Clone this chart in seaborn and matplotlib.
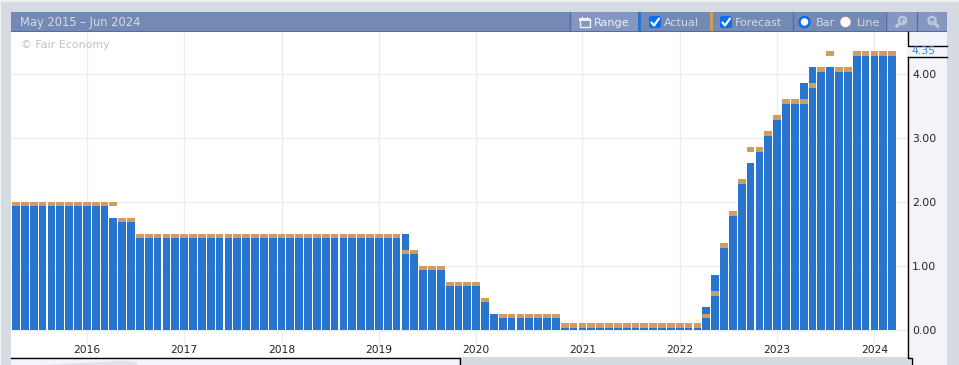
import matplotlib
matplotlib.use("Agg")
import matplotlib.pyplot as plt
import matplotlib.patches as mpatches
import numpy as np
import pandas as pd
import seaborn as sns

# one value per release
actual = [
    2.00, 2.00, 2.00, 2.00, 2.00, 2.00, 2.00, 2.00, 2.00, 2.00,
    2.00, 1.75, 1.75, 1.75, 1.50, 1.50, 1.50, 1.50, 1.50, 1.50,
    1.50, 1.50, 1.50, 1.50, 1.50, 1.50, 1.50, 1.50, 1.50, 1.50,
    1.50, 1.50, 1.50, 1.50, 1.50, 1.50, 1.50, 1.50, 1.50, 1.50,
    1.50, 1.50, 1.50, 1.50, 1.50, 1.25, 1.00, 1.00, 1.00, 0.75,
    0.75, 0.75, 0.75, 0.50, 0.25, 0.25, 0.25, 0.25, 0.25, 0.25,
    0.25, 0.25, 0.10, 0.10, 0.10, 0.10, 0.10, 0.10, 0.10, 0.10,
    0.10, 0.10, 0.10, 0.10, 0.10, 0.10, 0.10, 0.10, 0.35, 0.85,
    1.35, 1.85, 2.35, 2.60, 2.85, 3.10, 3.35, 3.60, 3.60, 3.85,
    4.10, 4.10, 4.10, 4.10, 4.10, 4.35, 4.35, 4.35, 4.35, 4.35,
]
forecast = [
    2.00, 2.00, 2.00, 2.00, 2.00, 2.00, 2.00, 2.00, 2.00, 2.00,
    2.00, 2.00, 1.75, 1.75, 1.50, 1.50, 1.50, 1.50, 1.50, 1.50,
    1.50, 1.50, 1.50, 1.50, 1.50, 1.50, 1.50, 1.50, 1.50, 1.50,
    1.50, 1.50, 1.50, 1.50, 1.50, 1.50, 1.50, 1.50, 1.50, 1.50,
    1.50, 1.50, 1.50, 1.50, 1.25, 1.25, 1.00, 1.00, 1.00, 0.75,
    0.75, 0.75, 0.75, 0.50, None, 0.25, 0.25, 0.25, 0.25, 0.25,
    0.25, 0.25, 0.10, 0.10, 0.10, 0.10, 0.10, 0.10, 0.10, 0.10,
    0.10, 0.10, 0.10, 0.10, 0.10, 0.10, 0.10, 0.10, 0.25, 0.60,
    1.35, 1.85, 2.35, 2.85, 2.85, 3.10, 3.35, 3.60, 3.60, 3.60,
    3.85, 4.10, 4.35, 4.10, 4.10, 4.35, 4.35, 4.35, 4.35, 4.35,
]
year_bars = [8, 19, 30, 41, 52, 64, 75, 86, 97]
year_labels = ["2016", "2017", "2018", "2019", "2020", "2021", "2022", "2023", "2024"]
y_ticks = [0, 1, 2, 3, 4]
last_value = "4.35"

BLUE = "#2775cf"
ORANGE = "#d29b5f"
GRID = "#ebebf2"
PAGE = "#d5dae3"
PANEL = "#f3f4fa"
HEADER = "#7589b5"
HEADER_LIGHT = "#8597c0"
HEADER_LINE = "#4f6ea8"
HEADER_TEXT = "#d3d9e8"
CHECK = "#0a6cf0"
INK = "#222222"

W, H = 959, 365
PX_PER_UNIT = 64
ZERO_Y = 329.5
BAR_STEP = 8.85
BAR0_X = 16
AX_BOTTOM = 343

df = pd.DataFrame({
    "bar": np.arange(len(actual)),
    "actual": actual,
    "forecast": pd.to_numeric(pd.Series(forecast)),
})

sns.set_style("white")
plt.rcParams["font.family"] = ["DejaVu Sans"]

fig = plt.figure(figsize=(W / 100, H / 100), dpi=100, facecolor=PAGE)


def px_axes(zorder):
    a = fig.add_axes([0, 0, 1, 1], zorder=zorder)
    a.set_xlim(0, W)
    a.set_ylim(H, 0)
    a.axis("off")
    return a


def box(a, x0, y0, x1, y1, color, **kw):
    a.add_patch(mpatches.Rectangle((x0, y0), x1 - x0, y1 - y0, facecolor=color,
                                   edgecolor="none", **kw))


# page behind the chart
back = px_axes(0)
box(back, 0, 0, W, 2, "#eef0f4")
box(back, 0, 0, 1, H, "#eef0f4")
box(back, 11, 32, 947, 365, PANEL)
box(back, 11, AX_BOTTOM, 907, 357, "white")
box(back, 459, 357, 911, 365, PAGE)
back.fill([45, 100, 125, 137, 137, 45], [365, 362, 361, 362, 365, 365], color="#dfe2ea", lw=0)

# chart
ax = fig.add_axes([11 / W, 1 - AX_BOTTOM / H, (907 - 11) / W, (AX_BOTTOM - 32) / H], zorder=1)
ax.set_facecolor("white")

ax.vlines(year_bars, (ZERO_Y - AX_BOTTOM) / PX_PER_UNIT, (ZERO_Y - 32) / PX_PER_UNIT,
          color=GRID, lw=1, zorder=0)
ax.hlines(y_ticks, (11 - BAR0_X) / BAR_STEP, (907 - BAR0_X) / BAR_STEP,
          color=GRID, lw=1, zorder=0)

sns.barplot(data=df, x="bar", y="actual", native_scale=True, color=BLUE, saturation=1,
            width=0.88, linewidth=0, ax=ax, zorder=2)

# forecast is only a small cap whose top sits on the value
cap = 4.4 / PX_PER_UNIT
ax.bar(df["bar"], cap, bottom=df["forecast"] - cap, width=0.88, color=ORANGE, lw=0, zorder=3)

ax.set_xlim((11 - BAR0_X) / BAR_STEP, (907 - BAR0_X) / BAR_STEP)
ax.set_ylim((ZERO_Y - AX_BOTTOM) / PX_PER_UNIT, (ZERO_Y - 32) / PX_PER_UNIT)
ax.set_xlabel("")
ax.set_ylabel("")
ax.set_xticks(year_bars, year_labels)
ax.yaxis.tick_right()
ax.set_yticks(y_ticks, [f"{v:.2f}" for v in y_ticks])
ax.tick_params(axis="x", length=0, pad=1.6, labelsize=7.7, labelcolor=INK)
ax.tick_params(axis="y", length=0, pad=3.6, labelsize=7.8, labelcolor=INK)
ax.grid(False)
for s in ax.spines.values():
    s.set_visible(False)

# header strip, frames and labels on top
top = px_axes(2)
top.set_facecolor("none")
box(top, 11, 12, 947, 32, HEADER)
box(top, 570, 12, 638, 31, HEADER_LIGHT)
box(top, 885, 12, 947, 31, HEADER_LIGHT)
box(top, 11, 31, 947, 32, HEADER_LINE)
for x in (569.5, 792.5, 885.5, 916.5):
    top.plot([x, x], [12, 31], color=HEADER_LINE, lw=1)
box(top, 638, 12, 641, 31, BLUE)
box(top, 710, 12, 713, 31, ORANGE)

top.text(20, 22.5, "May 2015 – Jun 2024", color=HEADER_TEXT, fontsize=8.3, va="center", ha="left")
top.text(21, 45.5, "© Fair Economy", color="#c2c2c2", fontsize=7.9, va="center", ha="left")
top.text(594, 22.5, "Range", color="#eef1f7", fontsize=8, va="center", ha="left")
top.text(664, 22.5, "Actual", color=HEADER_TEXT, fontsize=8, va="center", ha="left")
top.text(735, 22.5, "Forecast", color=HEADER_TEXT, fontsize=8, va="center", ha="left")
top.text(816, 22.5, "Bar", color=HEADER_TEXT, fontsize=8, va="center", ha="left")
top.text(857, 22.5, "Line", color=HEADER_TEXT, fontsize=8, va="center", ha="left")

# range calendar icon
top.add_patch(mpatches.Rectangle((579.5, 18.5), 10, 8, fc="none", ec="#eef1f7", lw=1))
box(top, 579, 18, 590, 21, "#eef1f7")
top.plot([582, 582], [16.5, 18.5], color="#eef1f7", lw=1)
top.plot([587, 587], [16.5, 18.5], color="#eef1f7", lw=1)

# check boxes
for x0 in (649, 720):
    top.add_patch(mpatches.FancyBboxPatch((x0 + 1, 17), 10, 10, boxstyle="round,pad=1,rounding_size=2",
                                          fc=CHECK, ec="none"))
    top.plot([x0 + 2.5, x0 + 5, x0 + 10], [22.5, 25.5, 18.5], color="white", lw=1.6,
             solid_capstyle="round", solid_joinstyle="round")

# radio buttons
top.add_patch(mpatches.Circle((804.5, 22), 5, fc="white", ec=CHECK, lw=1.8))
top.add_patch(mpatches.Circle((845.5, 22), 5.6, fc="white", ec="#8d8d8d", lw=0.6))

# zoom icons: handle bottom left on the first, bottom right on the second
lens = "#bcc7de"
for cx, cy, hx0, hx1 in ((902.5, 20.5, 899.5, 896.5), (932, 20.5, 935, 938)):
    top.add_patch(mpatches.Circle((cx, cy), 3.6, fc="none", ec=lens, lw=1.7))
    top.plot([hx0, hx1], [23.5, 26.5], color=lens, lw=2.2)
    top.plot([cx - 1.6, cx + 1.6], [cy, cy], color=lens, lw=1)
top.plot([902.5, 902.5], [18.9, 22.1], color=lens, lw=1)

# axis frames
line = dict(color="black", lw=1, solid_capstyle="projecting")
top.plot([11, 459.5, 459.5], [357.5, 357.5, 365], **line)
top.plot([907.5, 907.5, 911.5, 911.5], [56.5, 357.5, 357.5, 365], **line)
top.plot([947, 907.5], [56.5, 56.5], **line)
top.plot([907.5, 907.5, 947], [32, 45.5, 45.5], **line)
top.text(912, 50.5, last_value, color="#3f86dc", fontsize=7.9, va="center", ha="left")

fig.savefig("out.png", dpi=100, facecolor=PAGE)
